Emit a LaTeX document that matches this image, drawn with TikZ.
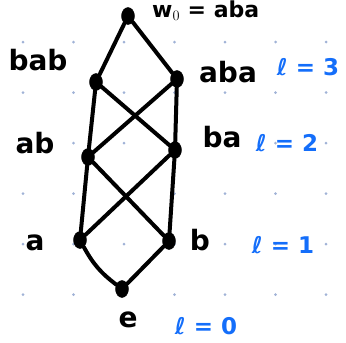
\documentclass[tikz,border=0pt]{standalone}
\usepackage{fontspec}
\setmainfont{DejaVu Sans}
\definecolor{dotgrey}{RGB}{160,178,214}
\definecolor{penblue}{RGB}{20,110,250}
\usetikzlibrary{positioning,shapes.geometric}

\begin{document}
\begin{tikzpicture}[
  x=1pt, y=-1pt,
  elem/.style={draw, fill=black, ellipse, inner sep=0pt, minimum width=13pt, minimum height=17pt},
  word/.style={font=\fontsize{28}{30}\selectfont\bfseries, inner sep=0pt},
  lvl/.style={font=\fontsize{23}{25}\selectfont\bfseries, text=penblue, inner sep=0pt},
  edge/.style={line width=4pt, line cap=round}
]
\useasboundingbox (0,0) rectangle (346,343);
% dotted paper
\foreach \i in {0,...,6}
  \foreach \j in {0,...,5}
    \fill[dotgrey] (23+50.5*\i,42+50.5*\j) circle (1.5pt);
% elements of the group
\node[elem] (w) at (128,16) {};
\node[elem] (bab) at (96,82) {};
\node[elem] (aba) at (177,79) {};
\node[elem] (ab) at (88,157) {};
\node[elem] (ba) at (175,150) {};
\node[elem] (a) at (80,240) {};
\node[elem] (b) at (169,241) {};
\node[elem] (e) at (122,289) {};
% edges
\draw[edge] (w) -- (bab);
\draw[edge] (w) -- (aba);
\draw[edge] (bab) -- (ab);
\draw[edge] (bab) -- (ba);
\draw[edge] (aba) -- (ab);
\draw[edge] (aba) -- (ba);
\draw[edge] (ab) -- (a);
\draw[edge] (ab) -- (b);
\draw[edge] (ba) -- (a);
\draw[edge] (ba) -- (b);
\draw[edge] (a) to[bend right=12] (e);
\draw[edge] (b) -- (e);
% labels
\node[inner sep=0pt, font=\fontsize{22}{24}\selectfont\bfseries, anchor=west] (wlabel) at (152,11) {w$_0$ = aba};
\node[word] (bablabel) at (38,60) {bab};
\node[word] (abalabel) at (228,72) {aba};
\node[word] (ablabel) at (35,143) {ab};
\node[word] (balabel) at (222,137) {ba};
\node[word] (alabel) at (35,243) {a};
\node[word] (blabel) at (200,240) {b};
\node[word] (elabel) at (128,320) {e};
% lengths
\node[lvl] (l3) at (308,67) {ℓ = 3};
\node[lvl] (l2) at (287,143) {ℓ = 2};
\node[lvl] (l1) at (283,245) {ℓ = 1};
\node[lvl] (l0) at (206,326) {ℓ = 0};
\end{tikzpicture}
\end{document}
